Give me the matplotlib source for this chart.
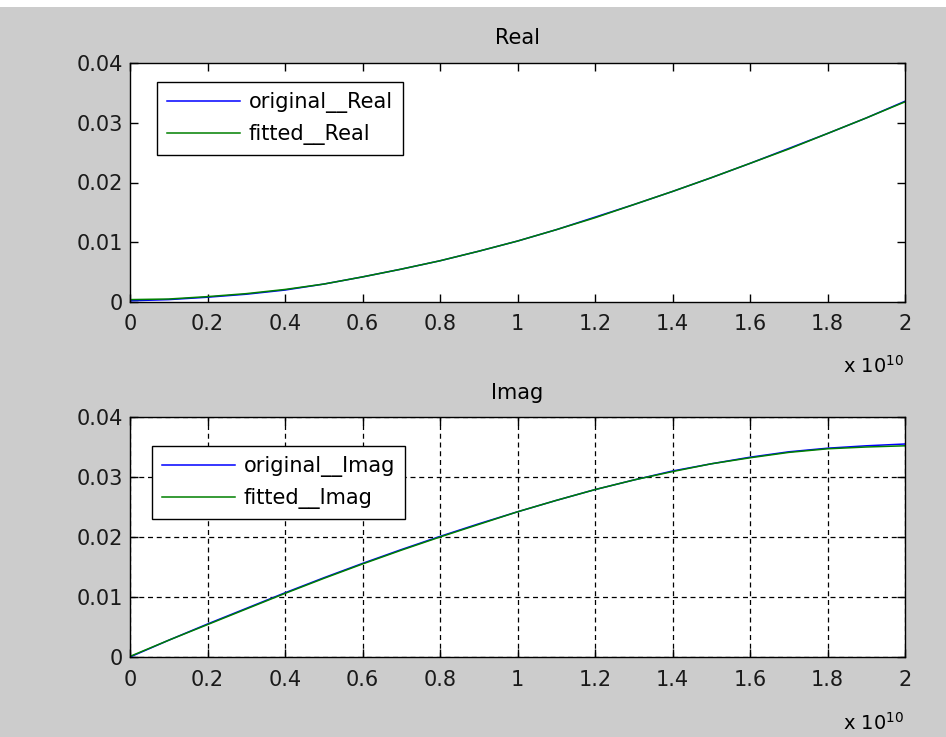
import numpy as np
import matplotlib
matplotlib.use("Agg")
import matplotlib.pyplot as plt
from matplotlib.patches import Rectangle

# x values (units of 1e10)
x_scaled = [0.0, 0.1, 0.2, 0.3, 0.4, 0.5, 0.6, 0.7, 0.8, 0.9, 1.0,
            1.1, 1.2, 1.3, 1.4, 1.5, 1.6, 1.7, 1.8, 1.9, 2.0]

real_original = [0.0002, 0.0004, 0.0008, 0.0013, 0.0020, 0.0030, 0.0042, 0.0055,
                 0.0069, 0.0085, 0.0102, 0.0121, 0.0142, 0.0163, 0.0185, 0.0208,
                 0.0232, 0.0257, 0.0282, 0.0308, 0.0336]
real_fitted = [0.0004, 0.0005, 0.0009, 0.0014, 0.0021, 0.0030, 0.0042, 0.0055,
               0.0069, 0.0085, 0.0102, 0.0121, 0.0141, 0.0163, 0.0185, 0.0208,
               0.0232, 0.0256, 0.0282, 0.0308, 0.0335]

imag_original = [0.0000, 0.0028, 0.0055, 0.0081, 0.0107, 0.0132, 0.0156, 0.0179,
                 0.0201, 0.0222, 0.0242, 0.0261, 0.0279, 0.0295, 0.0310, 0.0322,
                 0.0333, 0.0342, 0.0348, 0.0352, 0.0355]
imag_fitted = [0.0001, 0.0028, 0.0054, 0.0080, 0.0106, 0.0131, 0.0155, 0.0178,
               0.0200, 0.0221, 0.0242, 0.0261, 0.0279, 0.0295, 0.0309, 0.0322,
               0.0332, 0.0341, 0.0347, 0.0350, 0.0352]

xticks = [0, 0.2e10, 0.4e10, 0.6e10, 0.8e10, 1.0e10, 1.2e10, 1.4e10, 1.6e10, 1.8e10, 2.0e10]
xticklabels = ['0', '0.2', '0.4', '0.6', '0.8', '1', '1.2', '1.4', '1.6', '1.8', '2']
yticks = [0, 0.01, 0.02, 0.03, 0.04]
yticklabels = ['0', '0.01', '0.02', '0.03', '0.04']

x = np.array(x_scaled) * 1e10

plt.rcParams['font.family'] = ['DejaVu Sans']
FS = 15

W, H = 946, 737
fig = plt.figure(figsize=(W / 100, H / 100), dpi=100)
fig.patch.set_facecolor('#cccccc')
fig.patches.append(Rectangle((0, 1 - 7 / H), 1, 7 / H, transform=fig.transFigure,
                             facecolor='white', edgecolor='none', zorder=0))

def make_ax(top_px, bottom_px):
    return fig.add_axes([130 / W, 1 - bottom_px / H, (905 - 130) / W, (bottom_px - top_px) / H])

ax1 = make_ax(63, 302)
ax2 = make_ax(417, 657)

def style(ax):
    ax.set_xlim(0, 2e10)
    ax.set_ylim(0, 0.04)
    ax.set_xticks(xticks)
    ax.set_xticklabels(xticklabels)
    ax.set_yticks(yticks)
    ax.set_yticklabels(yticklabels)
    ax.tick_params(direction='in', length=6, width=1, top=True, right=True,
                   labelsize=FS, colors='black', labelcolor='#1a1a1a')
    ax.tick_params(axis='x', pad=9)
    ax.tick_params(axis='y', pad=5)
    for s in ax.spines.values():
        s.set_linewidth(1.0)
        s.set_color('black')

legend_kw = dict(borderaxespad=0, fontsize=FS, frameon=True, fancybox=False, framealpha=1,
                 edgecolor='black', handlelength=3.5, handletextpad=0.4,
                 labelspacing=0.5, borderpad=0.5)

# Real
ax1.plot(x, real_original, color='#0000ff', lw=1.1, label='original__Real')
ax1.plot(x, real_fitted, color='#008000', lw=1.1, label='fitted__Real')
style(ax1)
ax1.set_title('Real', fontsize=FS, pad=14)
leg1 = ax1.legend(loc='upper left', bbox_to_anchor=(27 / 775, 1 - 19 / 239), **legend_kw)
leg1.get_frame().set_linewidth(1.0)

# Imag
ax2.plot(x, imag_original, color='#0000ff', lw=1.1, label='original__Imag')
ax2.plot(x, imag_fitted, color='#008000', lw=1.1, label='fitted__Imag')
style(ax2)
ax2.grid(True, color='black', linestyle=(0, (4, 3)), linewidth=0.9)
ax2.set_title('Imag', fontsize=FS, pad=13)
leg2 = ax2.legend(loc='upper left', bbox_to_anchor=(22 / 775, 1 - 29 / 240), **legend_kw)
leg2.get_frame().set_linewidth(1.0)

fig.text(843 / W, 1 - 373 / H, r'x $\mathregular{10^{10}}$', fontsize=FS - 1, ha='left', va='baseline')
fig.text(843 / W, 1 - 730 / H, r'x $\mathregular{10^{10}}$', fontsize=FS - 1, ha='left', va='baseline')

fig.savefig('out.png', dpi=100, facecolor=fig.get_facecolor())
